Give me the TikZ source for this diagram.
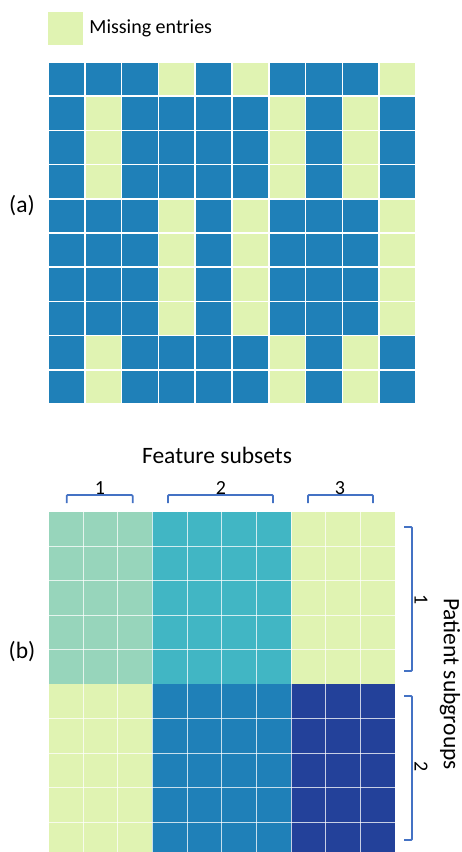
\documentclass[tikz,border=0pt]{standalone}
\usepackage{fontspec}
\setmainfont{Carlito}
\usepackage{xcolor}
\definecolor{ygbblue}{RGB}{31, 128, 184}
\definecolor{ygbmiss}{RGB}{224, 243, 178}
\definecolor{ygbmint}{RGB}{151, 213, 187}
\definecolor{ygbteal}{RGB}{65, 182, 196}
\definecolor{ygbnavy}{RGB}{35, 65, 154}
\definecolor{bracketblue}{RGB}{68, 114, 196}
\usetikzlibrary{positioning}

\begin{document}
\begin{tikzpicture}[x=1pt, y=-1pt,
    lbl/.style={font=\fontsize{20}{24}\selectfont, inner sep=0pt},
    biglbl/.style={font=\fontsize{23.5}{28}\selectfont, inner sep=0pt},
    legendbox/.style={fill=ygbmiss, minimum width=35pt, minimum height=33pt, inner sep=0pt},
    cellgap/.style={white, line width=1.6pt},
    thingap/.style={white, opacity=0.75, line width=0.8pt},
    bracketline/.style={bracketblue, line width=1.8pt, rounded corners=1pt}]

\useasboundingbox (0,0) rectangle (461,852);

% === Leyenda ===
\node[legendbox] (legend) at (65.5,28.5) {};
\node[lbl, right=6pt of legend] (legendtext) {Missing entries};

% === (a) matriz con entradas faltantes ===
\node[biglbl] (labela) at (22,206) {(a)};

\fill[ygbblue] (48,62) rectangle (416,404);
% filas con huecos en las columnas 4, 6 y 10
\foreach \r in {1,5,6,7,8}
  \foreach \c in {4,6,10}
    \fill[ygbmiss] ({48+(\c-1)*36.8},{62+(\r-1)*34.2}) rectangle ++(36.8,34.2);
% filas con huecos en las columnas 2, 7 y 9
\foreach \r in {2,3,4,9,10}
  \foreach \c in {2,7,9}
    \fill[ygbmiss] ({48+(\c-1)*36.8},{62+(\r-1)*34.2}) rectangle ++(36.8,34.2);

% separaciones blancas entre celdas
\foreach \i in {0,...,10} {
  \draw[cellgap] ({48+\i*36.8},62) -- ++(0,342);
  \draw[cellgap] (48,{62+\i*34.2}) -- ++(368,0);
}

% === (b) bloques de subconjuntos ===
\node[biglbl] (labelb) at (22,652) {(b)};
\node[biglbl] (featlabel) at (217,455) {Feature subsets};

\fill[ygbmint] (48.5,511.5) rectangle (152.45,684);
\fill[ygbteal] (152.45,511.5) rectangle (291.05,684);
\fill[ygbmiss] (291.05,511.5) rectangle (395,684);
\fill[ygbmiss] (48.5,684) rectangle (152.45,852);
\fill[ygbblue] (152.45,684) rectangle (291.05,852);
\fill[ygbnavy] (291.05,684) rectangle (395,852);

\foreach \i in {1,...,9}
  \draw[thingap] ({48.5+\i*34.65},511.5) -- ++(0,341);
\foreach \j in {1,2,3,4,6,7,8,9}
  \draw[thingap] (48.5,{511.5+\j*34.5}) -- ++(346.5,0);

% Llaves superiores (columnas)
\draw[bracketline] (66.7,503) -- (66.7,495) -- (132.7,495) -- (132.7,503);
\draw[bracketline] (168,503) -- (168,495) -- (273,495) -- (273,503);
\draw[bracketline] (308,503) -- (308,495) -- (373,495) -- (373,503);
\node[lbl] (feat1) at (100,488) {1};
\node[lbl] (feat2) at (221,488) {2};
\node[lbl] (feat3) at (340,488) {3};

% Llaves laterales (filas)
\draw[bracketline] (404,527) -- (412,527) -- (412,671) -- (404,671);
\draw[bracketline] (404,696) -- (412,696) -- (412,840) -- (404,840);
\node[lbl, rotate=-90] (pat1) at (421,600) {1};
\node[lbl, rotate=-90] (pat2) at (421,767) {2};
\node[biglbl, rotate=-90] (patlabel) at (450,684) {Patient subgroups};

\end{tikzpicture}
\end{document}
